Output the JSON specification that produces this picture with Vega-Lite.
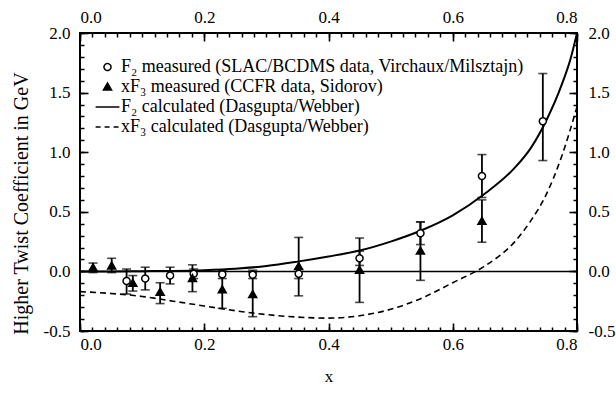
{
  "$schema": "https://vega.github.io/schema/vega-lite/v6.json",
  "width": 497,
  "height": 298,
  "autosize": "none",
  "padding": {"left": 80, "top": 33, "right": 39, "bottom": 62},
  "background": "white",
  "config": {
    "view": {"stroke": "black", "strokeWidth": 2},
    "axis": {"grid": false, "domain": false}
  },
  "datasets": {
    "pts": [
      {"series": "F₂ measured (SLAC/BCDMS data, Virchaux/Milsztajn)", "x": 0.075, "y": -0.08, "lo": -0.19, "hi": 0.02},
      {"series": "F₂ measured (SLAC/BCDMS data, Virchaux/Milsztajn)", "x": 0.105, "y": -0.06, "lo": -0.155, "hi": 0.035},
      {"series": "F₂ measured (SLAC/BCDMS data, Virchaux/Milsztajn)", "x": 0.145, "y": -0.035, "lo": -0.105, "hi": 0.035},
      {"series": "F₂ measured (SLAC/BCDMS data, Virchaux/Milsztajn)", "x": 0.183, "y": -0.02, "lo": -0.06, "hi": 0.02},
      {"series": "F₂ measured (SLAC/BCDMS data, Virchaux/Milsztajn)", "x": 0.229, "y": -0.025, "lo": -0.06, "hi": 0.01},
      {"series": "F₂ measured (SLAC/BCDMS data, Virchaux/Milsztajn)", "x": 0.278, "y": -0.028, "lo": -0.06, "hi": 0.01},
      {"series": "F₂ measured (SLAC/BCDMS data, Virchaux/Milsztajn)", "x": 0.352, "y": -0.02, "lo": -0.06, "hi": 0.02},
      {"series": "F₂ measured (SLAC/BCDMS data, Virchaux/Milsztajn)", "x": 0.45, "y": 0.11, "lo": 0.05, "hi": 0.17},
      {"series": "F₂ measured (SLAC/BCDMS data, Virchaux/Milsztajn)", "x": 0.548, "y": 0.32, "lo": 0.225, "hi": 0.415},
      {"series": "F₂ measured (SLAC/BCDMS data, Virchaux/Milsztajn)", "x": 0.647, "y": 0.8, "lo": 0.62, "hi": 0.98},
      {"series": "F₂ measured (SLAC/BCDMS data, Virchaux/Milsztajn)", "x": 0.745, "y": 1.26, "lo": 0.93, "hi": 1.66},
      {"series": "xF₃ measured (CCFR data, Sidorov)", "x": 0.021, "y": 0.03, "lo": -0.01, "hi": 0.07},
      {"series": "xF₃ measured (CCFR data, Sidorov)", "x": 0.051, "y": 0.045, "lo": -0.01, "hi": 0.11},
      {"series": "xF₃ measured (CCFR data, Sidorov)", "x": 0.085, "y": -0.1, "lo": -0.165, "hi": -0.035},
      {"series": "xF₃ measured (CCFR data, Sidorov)", "x": 0.129, "y": -0.175, "lo": -0.27, "hi": -0.095},
      {"series": "xF₃ measured (CCFR data, Sidorov)", "x": 0.181, "y": -0.06, "lo": -0.17, "hi": 0.055},
      {"series": "xF₃ measured (CCFR data, Sidorov)", "x": 0.229, "y": -0.155, "lo": -0.31, "hi": 0.0},
      {"series": "xF₃ measured (CCFR data, Sidorov)", "x": 0.278, "y": -0.195, "lo": -0.38, "hi": -0.01},
      {"series": "xF₃ measured (CCFR data, Sidorov)", "x": 0.352, "y": 0.04, "lo": -0.205, "hi": 0.285},
      {"series": "xF₃ measured (CCFR data, Sidorov)", "x": 0.45, "y": 0.01, "lo": -0.26, "hi": 0.28},
      {"series": "xF₃ measured (CCFR data, Sidorov)", "x": 0.548, "y": 0.17, "lo": -0.075, "hi": 0.415},
      {"series": "xF₃ measured (CCFR data, Sidorov)", "x": 0.647, "y": 0.42, "lo": 0.245, "hi": 0.6}
    ],
    "curves": [
      {"curve": "F2", "x": 0.0, "y": 0.0},
      {"curve": "F2", "x": 0.05, "y": 0.0},
      {"curve": "F2", "x": 0.1, "y": 0.002},
      {"curve": "F2", "x": 0.15, "y": 0.004},
      {"curve": "F2", "x": 0.2, "y": 0.01},
      {"curve": "F2", "x": 0.25, "y": 0.022},
      {"curve": "F2", "x": 0.3, "y": 0.045},
      {"curve": "F2", "x": 0.35, "y": 0.082},
      {"curve": "F2", "x": 0.4, "y": 0.125},
      {"curve": "F2", "x": 0.45, "y": 0.175},
      {"curve": "F2", "x": 0.5, "y": 0.25},
      {"curve": "F2", "x": 0.55, "y": 0.345},
      {"curve": "F2", "x": 0.6, "y": 0.47},
      {"curve": "F2", "x": 0.65, "y": 0.645},
      {"curve": "F2", "x": 0.7, "y": 0.87},
      {"curve": "F2", "x": 0.725, "y": 1.03},
      {"curve": "F2", "x": 0.75, "y": 1.26},
      {"curve": "F2", "x": 0.775, "y": 1.56},
      {"curve": "F2", "x": 0.79, "y": 1.79},
      {"curve": "F2", "x": 0.8, "y": 2.0},
      {"curve": "xF3", "x": 0.0, "y": -0.17},
      {"curve": "xF3", "x": 0.05, "y": -0.185},
      {"curve": "xF3", "x": 0.1, "y": -0.21},
      {"curve": "xF3", "x": 0.15, "y": -0.25},
      {"curve": "xF3", "x": 0.2, "y": -0.29},
      {"curve": "xF3", "x": 0.25, "y": -0.33},
      {"curve": "xF3", "x": 0.3, "y": -0.362},
      {"curve": "xF3", "x": 0.35, "y": -0.383},
      {"curve": "xF3", "x": 0.4, "y": -0.392},
      {"curve": "xF3", "x": 0.45, "y": -0.372},
      {"curve": "xF3", "x": 0.5, "y": -0.318},
      {"curve": "xF3", "x": 0.55, "y": -0.225},
      {"curve": "xF3", "x": 0.6, "y": -0.095},
      {"curve": "xF3", "x": 0.65, "y": 0.04},
      {"curve": "xF3", "x": 0.7, "y": 0.25},
      {"curve": "xF3", "x": 0.725, "y": 0.42},
      {"curve": "xF3", "x": 0.75, "y": 0.64},
      {"curve": "xF3", "x": 0.775, "y": 0.96},
      {"curve": "xF3", "x": 0.8, "y": 1.38}
    ]
  },
  "layer": [
    {
      "data": {"name": "curves"},
      "transform": [{"filter": "datum.curve === 'F2'"}],
      "mark": {"type": "line", "color": "black", "strokeWidth": 2, "interpolate": "monotone", "clip": true},
      "encoding": {
        "x": {"field": "x", "type": "quantitative", "scale": {"domain": [0, 0.8], "nice": false, "zero": false},
          "axis": {"orient": "bottom", "values": [0, 0.2, 0.4, 0.6, 0.8], "format": ".1f", "labelExpr": "replace(datum.label, '−', '-')", "ticks": false, "tickSize": 0, "labelFont": "Liberation Serif", "labelFontSize": 17, "labelColor": "black", "labelPadding": 5, "title": "x", "titleFont": "Liberation Serif", "titleFontSize": 17, "titleFontWeight": "normal", "titleColor": "black", "titlePadding": 16}},
        "y": {"field": "y", "type": "quantitative", "scale": {"domain": [-0.5, 2.0], "nice": false, "zero": false},
          "axis": {"orient": "left", "values": [-0.5, 0, 0.5, 1, 1.5, 2], "format": ".1f", "labelExpr": "replace(datum.label, '−', '-')", "ticks": false, "tickSize": 0, "labelFont": "Liberation Serif", "labelFontSize": 17, "labelColor": "black", "labelPadding": 10, "title": "Higher Twist Coefficient in GeV", "titleFont": "Liberation Serif", "titleFontSize": 20, "titleFontWeight": "normal", "titleColor": "black", "titlePadding": 12, "titleY": 170}}
      }
    },
    {
      "data": {"name": "curves"},
      "transform": [{"filter": "datum.curve === 'xF3'"}],
      "mark": {"type": "line", "color": "black", "strokeWidth": 1.6, "strokeDash": [6, 4], "interpolate": "monotone", "clip": true},
      "encoding": {
        "x": {"field": "x", "type": "quantitative", "scale": {"domain": [0, 0.8], "nice": false, "zero": false},
          "axis": {"orient": "bottom", "offset": -8, "values": [0, 0.2, 0.4, 0.6, 0.8], "labels": false, "tickSize": 8, "tickColor": "black", "tickWidth": 1.6, "title": null}},
        "y": {"field": "y", "type": "quantitative", "scale": {"domain": [-0.5, 2.0], "nice": false, "zero": false},
          "axis": {"orient": "left", "offset": -8, "values": [-0.5, 0, 0.5, 1, 1.5, 2], "labels": false, "tickSize": 8, "tickColor": "black", "tickWidth": 1.6, "title": null}}
      }
    },
    {
      "data": {"name": "pts"},
      "mark": {"type": "rule", "color": "black", "strokeWidth": 1.8},
      "encoding": {
        "x": {"field": "x", "type": "quantitative", "scale": {"domain": [0, 0.8], "nice": false, "zero": false},
          "axis": {"orient": "top", "values": [0, 0.2, 0.4, 0.6, 0.8], "format": ".1f", "labelExpr": "replace(datum.label, '−', '-')", "ticks": false, "tickSize": 0, "labelFont": "Liberation Serif", "labelFontSize": 17, "labelColor": "black", "labelPadding": 7, "title": null}},
        "y": {"field": "lo", "type": "quantitative", "scale": {"domain": [-0.5, 2.0], "nice": false, "zero": false},
          "axis": {"orient": "right", "values": [-0.5, 0, 0.5, 1, 1.5, 2], "format": ".1f", "labelExpr": "replace(datum.label, '−', '-')", "ticks": false, "tickSize": 0, "labelFont": "Liberation Serif", "labelFontSize": 17, "labelColor": "black", "labelPadding": 11, "title": null}},
        "y2": {"field": "hi"}
      }
    },
    {
      "data": {"name": "pts"},
      "mark": {"type": "tick", "orient": "horizontal", "color": "black", "size": 9, "thickness": 1.6},
      "encoding": {
        "x": {"field": "x", "type": "quantitative", "scale": {"domain": [0, 0.8], "nice": false, "zero": false},
          "axis": {"orient": "top", "offset": -8, "values": [0, 0.2, 0.4, 0.6, 0.8], "labels": false, "tickSize": 8, "tickColor": "black", "tickWidth": 1.6, "title": null}},
        "y": {"field": "lo", "type": "quantitative", "scale": {"domain": [-0.5, 2.0], "nice": false, "zero": false},
          "axis": {"orient": "right", "offset": -8, "values": [-0.5, 0, 0.5, 1, 1.5, 2], "labels": false, "tickSize": 8, "tickColor": "black", "tickWidth": 1.6, "title": null}}
      }
    },
    {
      "data": {"name": "pts"},
      "mark": {"type": "tick", "orient": "horizontal", "color": "black", "size": 9, "thickness": 1.6},
      "encoding": {
        "x": {"field": "x", "type": "quantitative", "scale": {"domain": [0, 0.8], "nice": false, "zero": false},
          "axis": {"orient": "bottom", "offset": -4, "values": [0,0.02,0.04,0.06,0.08,0.1,0.12,0.14,0.16,0.18,0.2,0.22,0.24,0.26,0.28,0.3,0.32,0.34,0.36,0.38,0.4,0.42,0.44,0.46,0.48,0.5,0.52,0.54,0.56,0.58,0.6,0.62,0.64,0.66,0.68,0.7,0.72,0.74,0.76,0.78,0.8], "labels": false, "tickSize": 4, "tickColor": "black", "tickWidth": 1.5, "title": null}},
        "y": {"field": "hi", "type": "quantitative", "scale": {"domain": [-0.5, 2.0], "nice": false, "zero": false},
          "axis": {"orient": "left", "offset": -4, "values": [-0.5,-0.4,-0.3,-0.2,-0.1,0,0.1,0.2,0.3,0.4,0.5,0.6,0.7,0.8,0.9,1,1.1,1.2,1.3,1.4,1.5,1.6,1.7,1.8,1.9,2], "labels": false, "tickSize": 4, "tickColor": "black", "tickWidth": 1.5, "title": null}}
      }
    },
    {
      "data": {"values": [{"v": 0}]},
      "mark": {"type": "rule", "color": "black", "strokeWidth": 1.5},
      "encoding": {
        "y": {"field": "v", "type": "quantitative", "scale": {"domain": [-0.5, 2.0], "nice": false, "zero": false}, "axis": null}
      }
    },
    {
      "data": {"name": "pts"},
      "mark": {"type": "point", "size": 49, "strokeWidth": 1.5, "opacity": 1, "fillOpacity": 1},
      "encoding": {
        "x": {"field": "x", "type": "quantitative", "scale": {"domain": [0, 0.8], "nice": false, "zero": false},
          "axis": {"orient": "top", "offset": -4, "values": [0,0.02,0.04,0.06,0.08,0.1,0.12,0.14,0.16,0.18,0.2,0.22,0.24,0.26,0.28,0.3,0.32,0.34,0.36,0.38,0.4,0.42,0.44,0.46,0.48,0.5,0.52,0.54,0.56,0.58,0.6,0.62,0.64,0.66,0.68,0.7,0.72,0.74,0.76,0.78,0.8], "labels": false, "tickSize": 4, "tickColor": "black", "tickWidth": 1.5, "title": null}},
        "y": {"field": "y", "type": "quantitative", "scale": {"domain": [-0.5, 2.0], "nice": false, "zero": false},
          "axis": {"orient": "right", "offset": -4, "values": [-0.5,-0.4,-0.3,-0.2,-0.1,0,0.1,0.2,0.3,0.4,0.5,0.6,0.7,0.8,0.9,1,1.1,1.2,1.3,1.4,1.5,1.6,1.7,1.8,1.9,2], "labels": false, "tickSize": 4, "tickColor": "black", "tickWidth": 1.5, "title": null}},
        "shape": {"field": "series", "type": "nominal",
          "scale": {"domain": ["F₂ measured (SLAC/BCDMS data, Virchaux/Milsztajn)", "xF₃ measured (CCFR data, Sidorov)", "F₂ calculated (Dasgupta/Webber)", "xF₃ calculated (Dasgupta/Webber)"],
                    "range": ["circle", "M0,-1.15L1.15,0.85L-1.15,0.85Z", "M-3.4,0H3.4", "M-3.4,0H3.4"]},
          "legend": {"title": null, "orient": "none", "legendX": 18.5, "legendY": 25, "symbolSize": 49, "symbolStrokeColor": "black", "symbolStrokeWidth": 1.5, "labelFont": "Liberation Serif", "labelFontSize": 18, "labelColor": "black", "labelLimit": 0, "labelOffset": 4.5, "rowPadding": 2, "padding": 0}},
        "fill": {"field": "series", "type": "nominal",
          "scale": {"domain": ["F₂ measured (SLAC/BCDMS data, Virchaux/Milsztajn)", "xF₃ measured (CCFR data, Sidorov)", "F₂ calculated (Dasgupta/Webber)", "xF₃ calculated (Dasgupta/Webber)"],
                    "range": ["white", "black", "black", "black"]},
          "legend": {"title": null, "orient": "none", "legendX": 18.5, "legendY": 25, "symbolSize": 49, "symbolStrokeColor": "black", "symbolStrokeWidth": 1.5, "labelFont": "Liberation Serif", "labelFontSize": 18, "labelColor": "black", "labelLimit": 0, "labelOffset": 4.5, "rowPadding": 2, "padding": 0}},
        "stroke": {"field": "series", "type": "nominal",
          "scale": {"domain": ["F₂ measured (SLAC/BCDMS data, Virchaux/Milsztajn)", "xF₃ measured (CCFR data, Sidorov)", "F₂ calculated (Dasgupta/Webber)", "xF₃ calculated (Dasgupta/Webber)"],
                    "range": ["black", "black", "black", "black"]},
          "legend": {"title": null, "orient": "none", "legendX": 18.5, "legendY": 25, "symbolSize": 49, "symbolStrokeColor": "black", "symbolStrokeWidth": 1.5, "labelFont": "Liberation Serif", "labelFontSize": 18, "labelColor": "black", "labelLimit": 0, "labelOffset": 4.5, "rowPadding": 2, "padding": 0}},
        "strokeDash": {"field": "series", "type": "nominal",
          "scale": {"domain": ["F₂ measured (SLAC/BCDMS data, Virchaux/Milsztajn)", "xF₃ measured (CCFR data, Sidorov)", "F₂ calculated (Dasgupta/Webber)", "xF₃ calculated (Dasgupta/Webber)"],
                    "range": [[1, 0], [1, 0], [1, 0], [5, 4]]},
          "legend": {"title": null, "orient": "none", "legendX": 18.5, "legendY": 25, "symbolSize": 49, "symbolStrokeColor": "black", "symbolStrokeWidth": 1.5, "labelFont": "Liberation Serif", "labelFontSize": 18, "labelColor": "black", "labelLimit": 0, "labelOffset": 4.5, "rowPadding": 2, "padding": 0}}
      }
    }
  ],
  "resolve": {"axis": {"x": "independent", "y": "independent"}}
}
